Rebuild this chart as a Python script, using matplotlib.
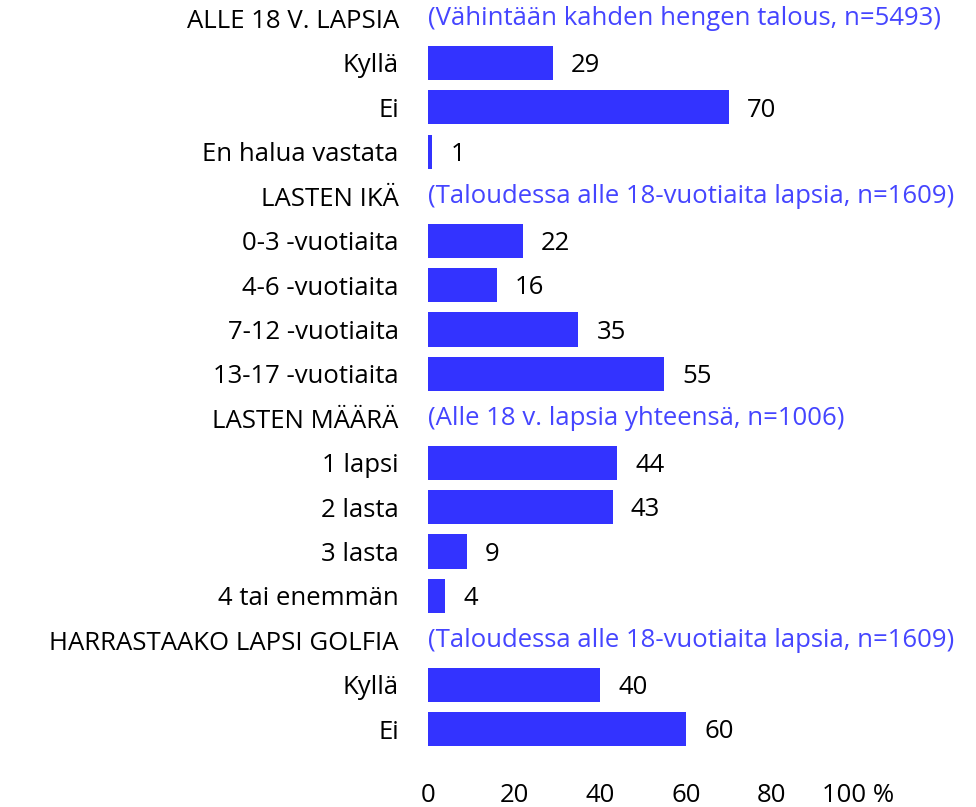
import matplotlib
matplotlib.use("Agg")
import matplotlib.pyplot as plt

# rows from top to bottom; None marks a section header row
labels = ["ALLE 18 V. LAPSIA", "Kyllä", "Ei", "En halua vastata",
          "LASTEN IKÄ", "0-3 -vuotiaita", "4-6 -vuotiaita", "7-12 -vuotiaita", "13-17 -vuotiaita",
          "LASTEN MÄÄRÄ", "1 lapsi", "2 lasta", "3 lasta", "4 tai enemmän",
          "HARRASTAAKO LAPSI GOLFIA", "Kyllä", "Ei"]
values = [None, 29, 70, 1,
          None, 22, 16, 35, 55,
          None, 44, 43, 9, 4,
          None, 40, 60]
notes = ["(Vähintään kahden hengen talous, n=5493)", None, None, None,
         "(Taloudessa alle 18-vuotiaita lapsia, n=1609)", None, None, None, None,
         "(Alle 18 v. lapsia yhteensä, n=1006)", None, None, None, None,
         "(Taloudessa alle 18-vuotiaita lapsia, n=1609)", None, None]
xticks = [0, 20, 40, 60, 80, 100]
xtick_labels = ["0", "20", "40", "60", "80", "100 %"]

plt.rcParams['font.family'] = ['Open Sans', 'DejaVu Sans']
FS = 18.5
bar_color = '#3333ff'
note_color = '#4545ff'

fig = plt.figure(figsize=(9.76, 8.07), dpi=100)
ax = fig.add_axes([0.4385, 0.069, 0.4406, 0.930])

for i, v in enumerate(values):
    if v is None:
        continue
    ax.barh(i, v, height=0.77, color=bar_color)
    ax.annotate(str(v), (v, i), xytext=(13, -2), textcoords='offset points',
                va='center', ha='left', fontsize=FS, color='black')

for i, n in enumerate(notes):
    if n:
        ax.text(0, i, n, va='center', ha='left', fontsize=FS, color=note_color)

ax.set_yticks(range(len(labels)))
ax.set_yticklabels(labels, fontsize=FS)
ax.set_xticks(xticks)
ax.set_xticklabels(xtick_labels, fontsize=FS)
ax.set_xlim(0, 100)
ax.set_ylim(16.5, -0.4)
ax.tick_params(axis='y', length=0, pad=21)
ax.tick_params(axis='x', length=0, pad=23)
for s in ax.spines.values():
    s.set_visible(False)

fig.savefig("out.png", dpi=100)
